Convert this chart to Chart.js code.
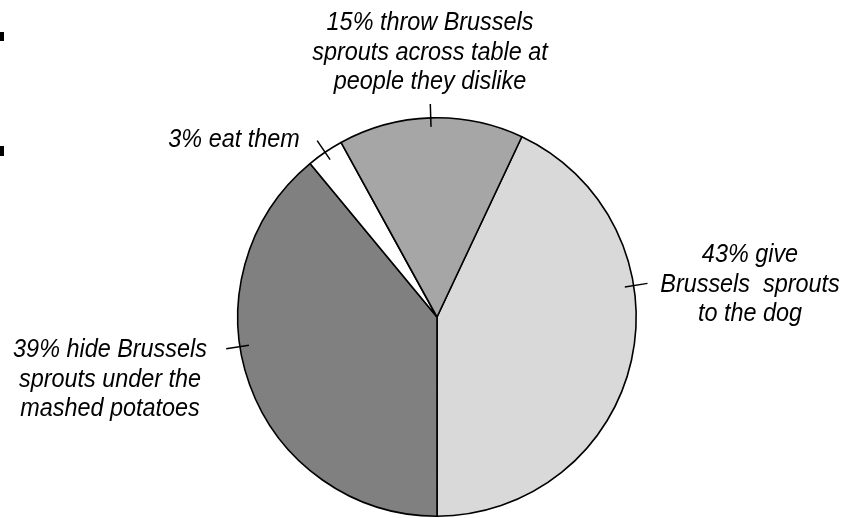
<!DOCTYPE html>
<html>
<head>
<meta charset="utf-8">
<script src="https://cdn.jsdelivr.net/npm/chart.js@4/dist/chart.umd.min.js"></script>
<style>
  html, body { margin: 0; padding: 0; background: #fff; }
  #wrap { position: relative; width: 849px; height: 518px; overflow: hidden; }
  .mark { position: absolute; left: 0; width: 4px; background: #000; }
</style>
</head>
<body>
<div id="wrap">
  <canvas id="pie" width="849" height="518"></canvas>
  <div class="mark" style="top:32px;height:9px"></div>
  <div class="mark" style="top:146px;height:10px"></div>
</div>
<script>
const SLICE_NAMES = ['give to dog', 'hide under potatoes', 'eat them', 'throw across table'];
const SLICE_VALUES = [43, 39, 3, 15];
const SLICE_COLORS = ['#d9d9d9', '#808080', '#ffffff', '#a6a6a6'];
const SLICE_LABELS = [
  ['43% give', 'Brussels  sprouts', 'to the dog'],
  ['39% hide Brussels', 'sprouts under the', 'mashed potatoes'],
  ['3% eat them'],
  ['15% throw Brussels', 'sprouts across table at', 'people they dislike'],
];

// where the little leader tick sits inside each slice (0 = start, 1 = end)
const TICK_AT = [0.36, 0.58, 0.5, 0.5];
// text anchor: centre x, first baseline y
const LABEL_POS = [
  { x: 750, y: 262 },
  { x: 110, y: 357 },
  { x: 234, y: 147 },
  { x: 430, y: 30 },
];
const LINE_H = 29.5;
const TEXT_SQUEEZE = 0.9; // the original type is a narrow oblique

// Draws the tick marks across the rim and the italic callout text.
const calloutPlugin = {
  id: 'callouts',
  afterDatasetsDraw(chart) {
    const ctx = chart.ctx;
    const arcs = chart.getDatasetMeta(0).data;
    ctx.save();
    ctx.strokeStyle = '#000';
    ctx.lineWidth = 1.5;
    arcs.forEach((arc, i) => {
      const { x, y, startAngle, endAngle, outerRadius } = arc.getProps(['x', 'y', 'startAngle', 'endAngle', 'outerRadius'], true);
      const a = startAngle + TICK_AT[i] * (endAngle - startAngle);
      ctx.beginPath();
      ctx.moveTo(x + Math.cos(a) * (outerRadius - 9), y + Math.sin(a) * (outerRadius - 9));
      ctx.lineTo(x + Math.cos(a) * (outerRadius + 14), y + Math.sin(a) * (outerRadius + 14));
      ctx.stroke();
    });
    ctx.fillStyle = '#000';
    ctx.font = 'italic 26px "Liberation Sans", Arial, sans-serif';
    ctx.textAlign = 'center';
    ctx.textBaseline = 'alphabetic';
    SLICE_LABELS.forEach((lines, i) => {
      const p = LABEL_POS[i];
      lines.forEach((t, k) => {
        ctx.save();
        ctx.translate(p.x, p.y + k * LINE_H);
        ctx.scale(TEXT_SQUEEZE, 1);
        ctx.fillText(t, 0, 0);
        ctx.restore();
      });
    });
    ctx.restore();
  }
};

new Chart(document.getElementById('pie'), {
  type: 'pie',
  data: {
    labels: SLICE_NAMES,
    datasets: [{
      data: SLICE_VALUES,
      backgroundColor: SLICE_COLORS,
      borderColor: '#000',
      borderWidth: 1.6,
    }]
  },
  options: {
    responsive: false,
    animation: false,
    rotation: 25.2,
    layout: { padding: { left: 237, right: 212, top: 117, bottom: 1 } },
    plugins: { legend: { display: false }, tooltip: { enabled: false } }
  },
  plugins: [calloutPlugin]
});
</script>
</body>
</html>
